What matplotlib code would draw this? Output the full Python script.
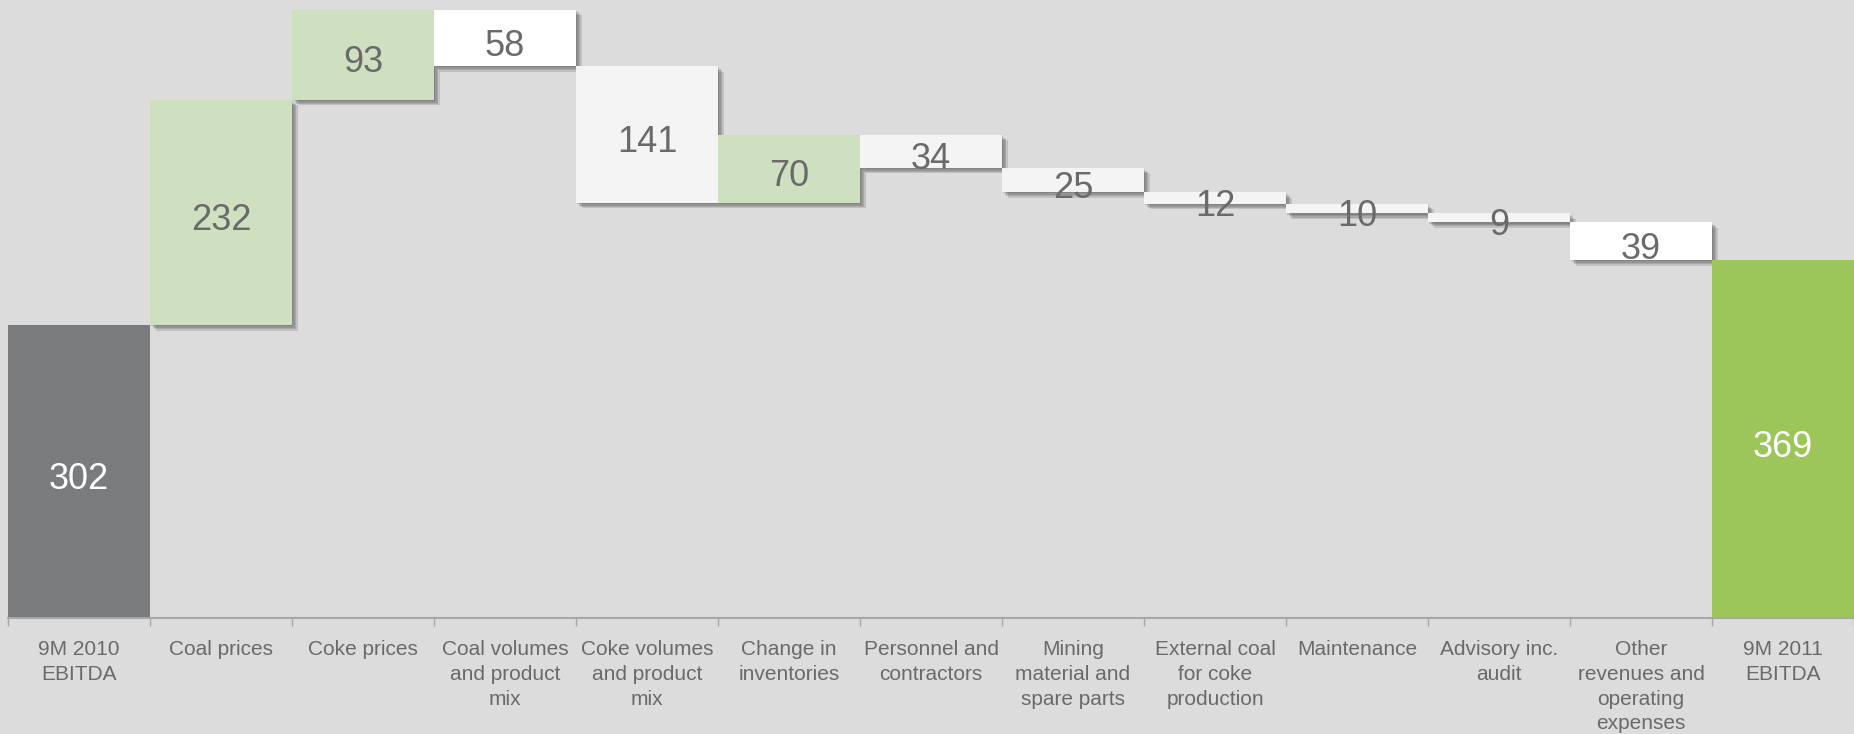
import matplotlib
matplotlib.use("Agg")
import matplotlib.pyplot as plt
import matplotlib.patheffects as pe
import numpy as np

# data
categories = ['9M 2010\nEBITDA', 'Coal prices', 'Coke prices',
              'Coal volumes\nand product\nmix', 'Coke volumes\nand product\nmix',
              'Change in\ninventories', 'Personnel and\ncontractors',
              'Mining\nmaterial and\nspare parts', 'External coal\nfor coke\nproduction',
              'Maintenance', 'Advisory inc.\naudit',
              'Other\nrevenues and\noperating\nexpenses', '9M 2011\nEBITDA']
changes = [302, 232, 93, -58, -141, 70, -34, -25, -12, -10, -9, -39, 369]
is_total = [True] + [False] * 11 + [True]

# styles
bg = '#dcdcdc'
txt_grey = '#6a6a6a'
fills = ['#7a7b7d', '#cfe0c0', '#cfe0c0', '#ffffff', '#f4f4f4', '#cfe0c0',
         '#f4f4f4', '#f4f4f4', '#f4f4f4', '#f4f4f4', '#f4f4f4', '#ffffff', '#9dc65a']

plt.rcParams['font.family'] = ['Liberation Sans', 'DejaVu Sans']

# compute waterfall bottoms/heights
bottoms = []
heights = []
running = 0
for v, tot in zip(changes, is_total):
    if tot:
        bottoms.append(0)
        heights.append(v)
        running = v
    elif v >= 0:
        bottoms.append(running)
        heights.append(v)
        running += v
    else:
        bottoms.append(running + v)
        heights.append(-v)
        running += v

fig = plt.figure(figsize=(18.54, 7.34), dpi=100, facecolor=bg)
ax = fig.add_axes([8 / 1854, 116 / 734, 1846 / 1854, 618 / 734])
ax.set_facecolor(bg)

x = np.arange(len(categories))
# soft drop shadow, several offset layers
shadow = [pe.SimplePatchShadow(offset=(o, -o), shadow_rgbFace='#303030', alpha=0.16)
          for o in (1.0, 2.0, 3.0, 4.0)] + [pe.Normal()]

for i in range(len(categories)):
    b = ax.bar(x[i], heights[i], bottom=bottoms[i], width=1.0, color=fills[i],
               linewidth=0, zorder=2)
    if not is_total[i]:
        b[0].set_path_effects(shadow)
    label_col = 'white' if is_total[i] else txt_grey
    ax.annotate(str(abs(changes[i])), (x[i], bottoms[i] + heights[i] / 2),
                xytext=(0, -3), textcoords='offset points',
                ha='center', va='center_baseline', fontsize=26, color=label_col, zorder=5)

ax.set_xlim(-0.5, len(categories) - 0.5)
ax.set_ylim(0, 637)

for s in ['top', 'right', 'left']:
    ax.spines[s].set_visible(False)
ax.spines['bottom'].set_color('#a8a8a8')
ax.spines['bottom'].set_linewidth(1.5)
ax.set_yticks([])

ax.set_xticks(x)
ax.set_xticklabels(categories, fontsize=15, color=txt_grey, linespacing=1.38)
ax.tick_params(axis='x', which='major', length=0, pad=16)
ax.set_xticks(np.arange(-0.5, len(categories), 1.0), minor=True)
ax.tick_params(axis='x', which='minor', length=6, width=1, color='#a8a8a8')

fig.savefig('out.png', dpi=100, facecolor=bg)
